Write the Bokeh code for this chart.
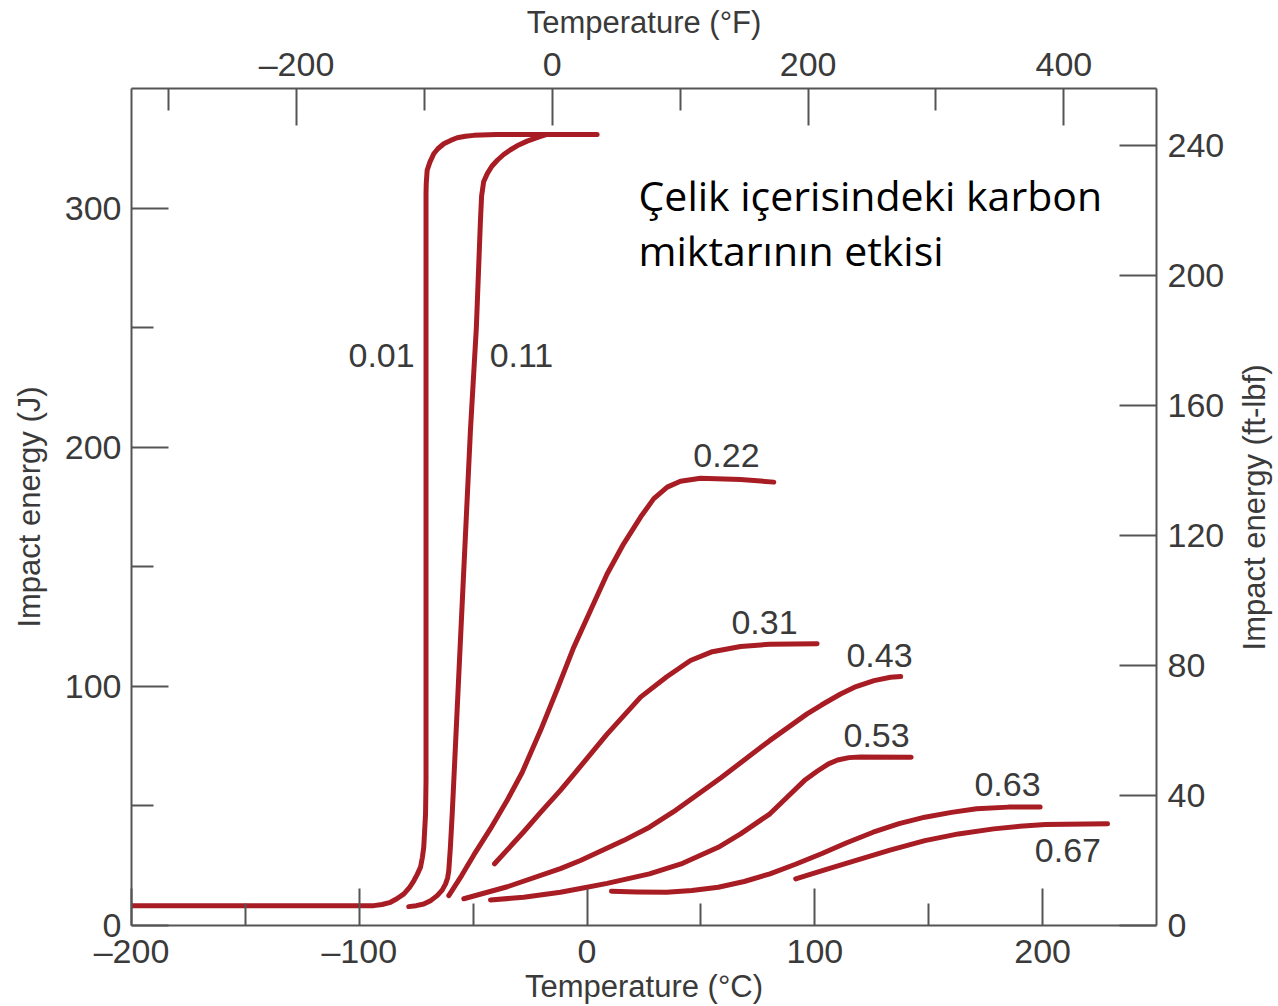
import math
from bokeh.plotting import figure
from bokeh.models import Range1d, LinearAxis, FixedTicker, Label
from bokeh.embed import file_html
from bokeh.resources import INLINE
from bokeh.core.properties import value

# ---------------- data (temperature in °C, impact energy in J) ----------------
c001_T = [-200, -93.6, -90, -86.3, -83.5, -80.4, -78, -76, -74.5, -73.1, -72.3, -71.7, -70.9, -70.7,
          -70.7, -70.6, -70.2, -69, -67.3, -65.5, -62.9, -59.9, -57, -53.4, -49.7, -40, -17.5]
c001_J = [8.3, 8.3, 8.8, 9.7, 11.2, 13.2, 15.8, 18.8, 21.5, 24.4, 28.5, 32.7, 46.7, 60.6,
          306, 310.2, 315.8, 319.2, 322.7, 324.8, 326.9, 328.3, 329.4, 330, 330.4, 330.8, 330.8]

c011_T = [-78.3, -75, -71.7, -68.5, -65.8, -63.6, -62.1, -61.2, -60.7, -60, -59.2, -58.5, -56, -51.2, -48.6,
          -46.8, -46.3, -45.4, -43.8, -41.8, -39.4, -36.6, -33.6, -30, -26.3, -20.4, -17.5, 4.4]
c011_J = [7.9, 8.3, 9, 10.5, 12.5, 14.8, 17.4, 20, 23, 32.7, 46.7, 60.6, 111, 207, 250,
          294.9, 305, 311, 314.4, 317.5, 320, 322.4, 324.4, 326.4, 328, 330, 330.8, 330.8]

c022_T = [-60.7, -55, -49.7, -42.4, -35, -28.5, -20.4, -13, -6, 1.5, 8.8, 16, 23.5, 29.3, 35.2, 41, 49.8, 67.4, 82]
c022_J = [12.5, 21, 29.5, 40.5, 52.5, 64, 81.6, 99, 116, 131.7, 147, 159.5, 170.8, 178.5, 183.3, 185.8, 187, 186.5, 185.4]

c031_T = [-40.6, -27.8, -20.4, -11.7, -6, 8.8, 23.5, 35, 45.4, 55, 67.4, 80, 101]
c031_J = [25.8, 39.2, 47.3, 56.5, 63, 80, 95.5, 104, 110.8, 114.5, 116.7, 117.6, 117.8]

c043_T = [-54.1, -35, -11.7, -2.9, 16, 27.4, 38, 58.8, 80.3, 96.6, 102.9, 111.3, 118.1, 126, 133.2, 137.7]
c043_J = [11.2, 16.2, 23.8, 27.2, 35.5, 41.1, 47.6, 61.8, 77.4, 88.5, 92.2, 96.8, 99.9, 102.4, 103.8, 104.1]

c053_T = [-42.4, -27.8, -11.7, -2.9, 8.8, 27.4, 42, 57.6, 67.4, 80.3, 89.3, 95.4, 101, 106, 110, 115, 120, 142.3]
c053_J = [10.7, 11.8, 13.9, 15.5, 17.6, 21.6, 26, 32.7, 38.3, 46.7, 55, 60.6, 64.5, 67.6, 69.2, 70.2, 70.5, 70.4]

c063_T = [10.7, 22, 34.9, 46, 57.6, 69, 80.3, 91.5, 102.9, 114, 125.6, 137, 148.3, 160, 171, 185, 198.9]
c063_J = [14.3, 14, 13.9, 14.6, 16, 18.4, 21.6, 25.6, 30, 34.6, 39, 42.6, 45.3, 47.3, 48.8, 49.5, 49.5]

c067_T = [91.6, 104, 118.1, 133, 148.3, 163, 178.5, 190, 201.2, 228.5]
c067_J = [19.5, 23.2, 27.2, 31.5, 35.5, 38.3, 40.4, 41.5, 42.2, 42.5]

carbon_labels = ["0.01", "0.11", "0.22", "0.31", "0.43", "0.53", "0.63", "0.67"]
label_T = [-90.2, -28.8, 61.2, 77.9, 128.4, 127.1, 184.6, 211.1]
label_J = [238.4, 238.4, 196.6, 126.7, 112.9, 79.5, 59.0, 31.4]

note_lines = ["Çelik içerisindeki karbon", "miktarının etkisi"]
note_T = [22.6, 22.6]
note_J = [305.3, 282.3]

x_ticks_C = [-200, -100, 0, 100, 200]
x_minor_C = [-150, -50, 50, 150]
x_ticks_F = [-200, 0, 200, 400]
x_minor_F = [-300, -100, 100, 300]
y_ticks_J = [0, 100, 200, 300]
y_minor_J = [50, 150, 250]
y_ticks_ft = [0, 40, 80, 120, 160, 200, 240]

right_title = "Impact energy (ft-lbf)"

# ---------------- figure ----------------
p = figure(width=1278, height=1006, output_backend="svg", toolbar_location=None,
           x_range=Range1d(-200, 250), y_range=Range1d(0, 350),
           x_axis_location=None, y_axis_location=None,
           min_border_left=131, min_border_right=122, min_border_top=88, min_border_bottom=81)
p.extra_x_ranges = {"F": Range1d(-329, 472.4)}
p.extra_y_ranges = {"ft": Range1d(0, 257.5)}
p.outline_line_color = None
p.background_fill_color = "white"
p.border_fill_color = "white"
for g in p.grid:
    g.visible = False

TXT = "#3a3a3a"
AX = "#555555"
FONT = "Liberation Sans"


def style(ax, ticks, minor, tick_standoff, label_standoff, overrides=None):
    ax.ticker = FixedTicker(ticks=ticks, minor_ticks=minor)
    ax.major_tick_in = 37
    ax.major_tick_out = 0
    ax.minor_tick_in = 22
    ax.minor_tick_out = 0
    ax.axis_line_color = AX
    ax.axis_line_width = 2
    ax.major_tick_line_color = AX
    ax.major_tick_line_width = 2
    ax.minor_tick_line_color = AX
    ax.minor_tick_line_width = 2
    ax.major_label_text_font = FONT
    ax.major_label_text_font_size = "34px"
    ax.major_label_text_color = TXT
    ax.major_label_standoff = tick_standoff
    ax.axis_label_text_font = FONT
    ax.axis_label_text_font_size = "31px"
    ax.axis_label_text_font_style = "normal"
    ax.axis_label_text_color = TXT
    ax.axis_label_standoff = label_standoff
    if overrides:
        ax.major_label_overrides = overrides


bottom = LinearAxis(axis_label="Temperature (°C)")
style(bottom, x_ticks_C, x_minor_C, 6, -4, {-200: "–200", -100: "–100"})
p.add_layout(bottom, "below")

top = LinearAxis(x_range_name="F", axis_label="Temperature (°F)")
style(top, x_ticks_F, x_minor_F, 6, 2, {-200: "–200"})
p.add_layout(top, "above")

left = LinearAxis(axis_label="Impact energy (J)")
style(left, y_ticks_J, y_minor_J, 10, 15)
p.add_layout(left, "left")

right = LinearAxis(y_range_name="ft")
style(right, y_ticks_ft, [], 11, 12)
p.add_layout(right, "right")

# right-hand axis title, reading bottom to top like the left one (placed in the side panel)
p.add_layout(Label(x=293.0, y=174.8, text=right_title, angle=math.pi / 2, angle_units="rad",
                   text_align="center", text_baseline="middle", text_font=FONT,
                   text_font_size="31px", text_color=TXT), "right")

# ---------------- curves ----------------
RED = "#a81c24"
for T, J in [(c001_T, c001_J), (c011_T, c011_J), (c022_T, c022_J), (c031_T, c031_J),
             (c043_T, c043_J), (c053_T, c053_J), (c063_T, c063_J), (c067_T, c067_J)]:
    p.line(T, J, line_color=RED, line_width=5, line_cap="round", line_join="round")

p.text(x=label_T, y=label_J, text=carbon_labels, text_font=value(FONT),
       text_font_size="34px", text_color=TXT, text_align="center", text_baseline="middle")

p.text(x=note_T, y=note_J, text=note_lines, text_font=value("Open Sans"),
       text_font_size="41px", text_color="black", text_align="left", text_baseline="alphabetic")

open("out.html", "w").write(file_html(p, INLINE))
